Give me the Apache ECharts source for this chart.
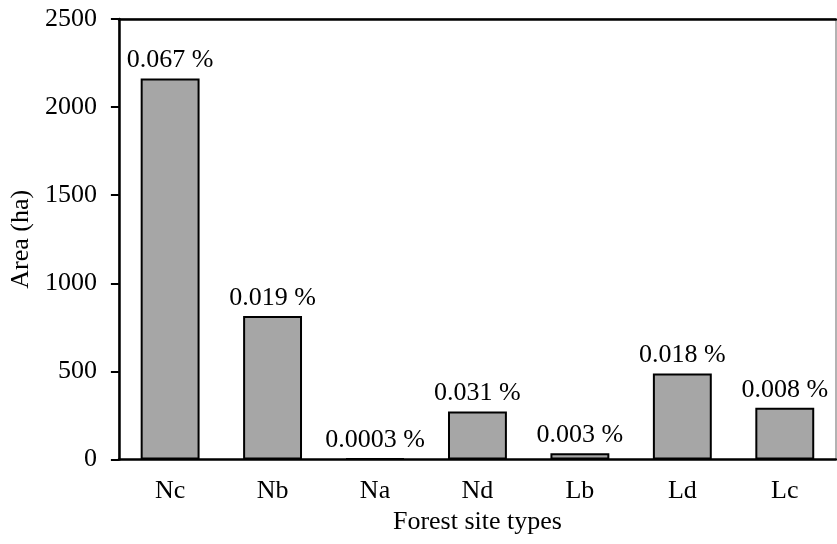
<!DOCTYPE html>
<html>
<head>
<meta charset="utf-8">
<script src="https://cdn.jsdelivr.net/npm/echarts@6/dist/echarts.min.js"></script>
<style>html,body{margin:0;padding:0;background:#fff}#c{width:837px;height:544px}</style>
</head>
<body>
<div id="c"></div>
<script>
const categories = ['Nc', 'Nb', 'Na', 'Nd', 'Lb', 'Ld', 'Lc'];
const areaValues = [2162, 815, 5, 272, 35, 488, 294];
const percentLabels = ['0.067 %', '0.019 %', '0.0003 %', '0.031 %', '0.003 %', '0.018 %', '0.008 %'];
const yTicks = [0, 500, 1000, 1500, 2000, 2500];

const FONT = 'Liberation Serif';
const FS = 26;
const chart = echarts.init(document.getElementById('c'), null, {renderer: 'canvas'});
chart.setOption({
  animation: false,
  backgroundColor: '#fff',
  grid: {left: 118, right: 1, top: 19, bottom: 84.5, show: true, borderColor: '#666', borderWidth: 1, backgroundColor: 'transparent'},
  xAxis: [{
    type: 'category',
    data: categories,
    name: 'Forest site types',
    nameLocation: 'middle',
    nameGap: 49,
    nameTextStyle: {fontFamily: FONT, fontSize: FS, color: '#000'},
    axisLine: {lineStyle: {color: '#000', width: 2.5}},
    axisTick: {show: false},
    axisLabel: {fontFamily: FONT, fontSize: FS, color: '#000', margin: 19}
  }, {
    type: 'category',
    data: categories,
    position: 'top',
    axisLine: {lineStyle: {color: '#000', width: 2.5}},
    axisTick: {show: false},
    axisLabel: {show: false}
  }],
  yAxis: {
    type: 'value',
    min: yTicks[0],
    max: yTicks[yTicks.length - 1],
    interval: 500,
    name: 'Area (ha)',
    nameLocation: 'middle',
    nameGap: 84,
    nameTextStyle: {fontFamily: FONT, fontSize: FS, color: '#000'},
    axisLine: {show: true, lineStyle: {color: '#000', width: 2.5}},
    axisTick: {show: true, length: 8, lineStyle: {color: '#000', width: 2}},
    axisLabel: {fontFamily: FONT, fontSize: FS, color: '#000', margin: 22, formatter: v => String(v)},
    splitLine: {show: false}
  },
  series: [{
    type: 'bar',
    data: areaValues,
    barWidth: '57.5%',
    itemStyle: {color: '#a6a6a6', borderColor: '#000', borderWidth: 2},
    label: {
      show: true,
      position: 'top',
      distance: 5,
      fontFamily: FONT,
      fontSize: FS,
      color: '#000',
      formatter: p => percentLabels[p.dataIndex]
    }
  }]
});
</script>
</body>
</html>
